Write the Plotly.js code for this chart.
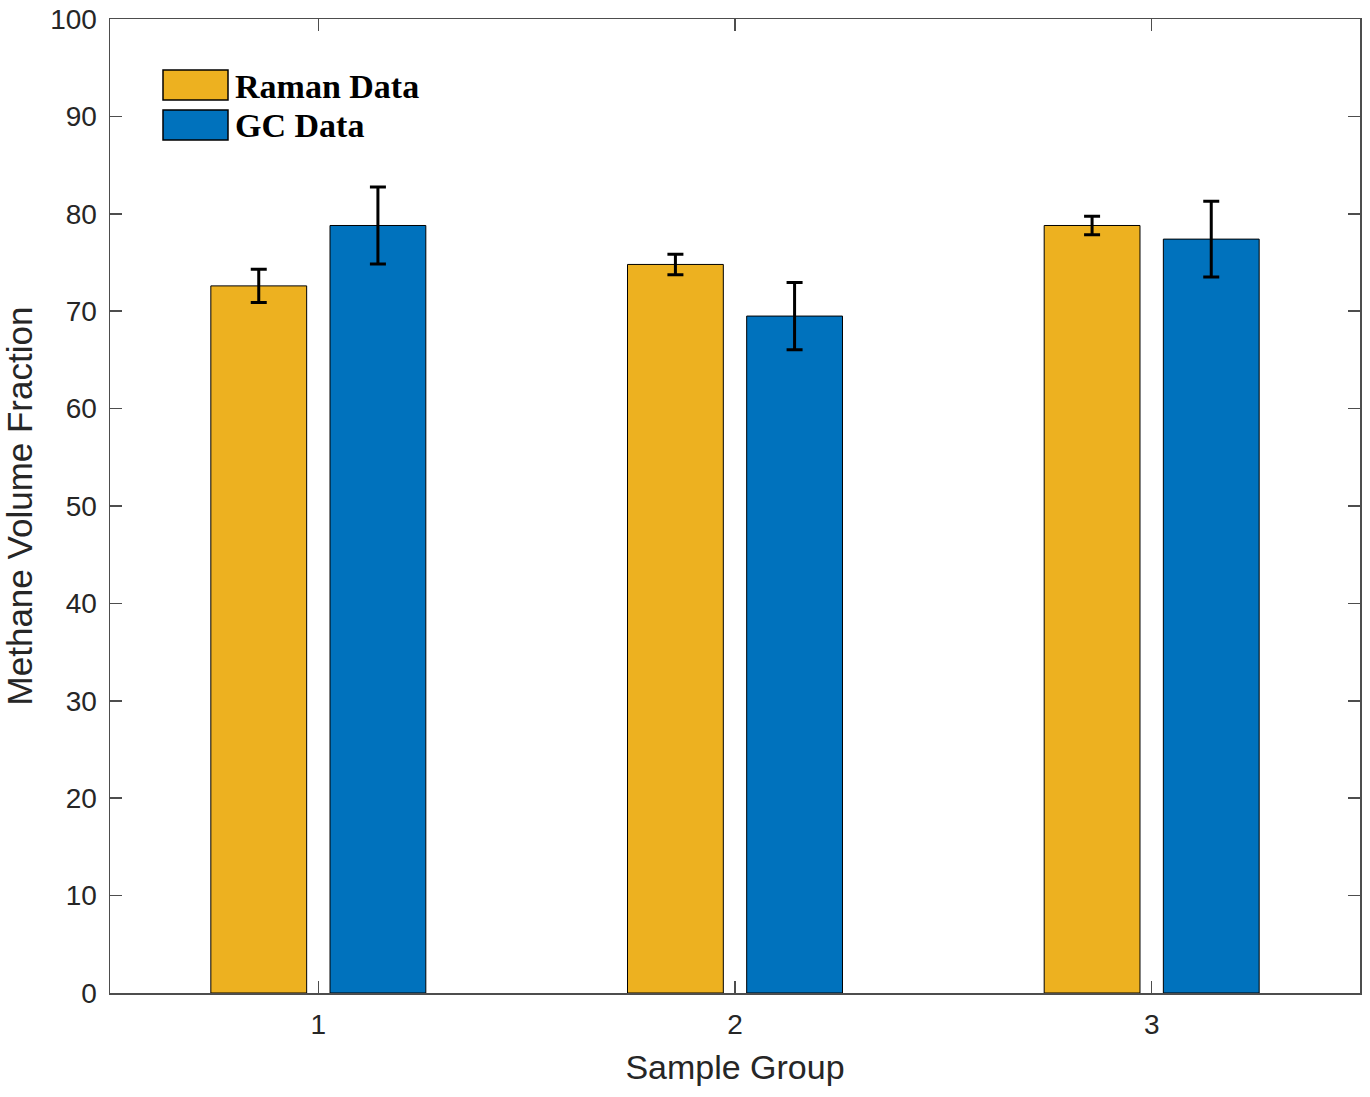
<!DOCTYPE html>
<html><head><meta charset="utf-8">
<script src="https://cdn.plot.ly/plotly-3.0.1.min.js"></script>
<style>html,body{margin:0;padding:0;background:#fff}#c{width:1370px;height:1097px}</style>
</head><body><div id="c"></div>
<script>
const groups = [1, 2, 3];
const ramanValues = [72.6, 74.8, 78.8];
const ramanErrors = [1.7, 1.05, 0.95];
const gcValues = [78.8, 69.5, 77.4];
const gcErrors = [3.95, 3.45, 3.9];
const seriesNames = ['Raman Data', 'GC Data'];
const yTicks = [0,10,20,30,40,50,60,70,80,90,100];

const ramanColor = '#EDB120', gcColor = '#0072BD';
const errStyle = {type:'data', visible:true, color:'#000', thickness:3, width:8};

const traces = [
  {type:'bar', x:groups, y:ramanValues, name:seriesNames[0],
   marker:{color:ramanColor, line:{color:'#000', width:1}},
   error_y:Object.assign({array:ramanErrors}, errStyle), showlegend:false},
  {type:'bar', x:groups, y:gcValues, name:seriesNames[1],
   marker:{color:gcColor, line:{color:'#000', width:1}},
   error_y:Object.assign({array:gcErrors}, errStyle), showlegend:false}
];

const sans = 'Liberation Sans, Arial, sans-serif';
const axisCommon = {
  showline:true, linecolor:'#4d4d4d', linewidth:1.5, mirror:'allticks',
  ticks:'inside', ticklen:12, tickwidth:1.5, tickcolor:'#4d4d4d',
  showgrid:false, zeroline:false,
  tickfont:{family:sans, size:28, color:'#262626'}
};

const layout = {
  width:1370, height:1097,
  margin:{l:110, r:10, t:19, b:104},
  paper_bgcolor:'#fff', plot_bgcolor:'#fff',
  barmode:'group', bargap:0.428, bargroupgap:0.196,
  xaxis:Object.assign({}, axisCommon, {
    range:[0.5, 3.5], tickvals:groups, ticktext:groups.map(String),
    ticklabelstandoff:6,
    title:{text:'Sample Group', font:{family:sans, size:34, color:'#262626'}, standoff:16}
  }),
  yaxis:Object.assign({}, axisCommon, {
    range:[0, 100], tickvals:yTicks, ticklabelstandoff:6,
    title:{text:'Methane Volume Fraction', font:{family:sans, size:35, color:'#262626'}, standoff:12}
  }),
  shapes:[
    {type:'rect', xref:'paper', yref:'paper', x0:(163-110)/1250, x1:(228-110)/1250,
     y0:(993-100)/974, y1:(993-70)/974, fillcolor:ramanColor, line:{color:'#000', width:1.5}},
    {type:'rect', xref:'paper', yref:'paper', x0:(163-110)/1250, x1:(228-110)/1250,
     y0:(993-140)/974, y1:(993-110)/974, fillcolor:gcColor, line:{color:'#000', width:1.5}}
  ],
  annotations:[
    {xref:'paper', yref:'paper', x:(233-110)/1250, y:(993-86)/974, xanchor:'left', yanchor:'middle',
     text:'<b>'+seriesNames[0]+'</b>', showarrow:false,
     font:{family:'Liberation Serif, Times New Roman, serif', size:34, color:'#000'}},
    {xref:'paper', yref:'paper', x:(233-110)/1250, y:(993-126)/974, xanchor:'left', yanchor:'middle',
     text:'<b>'+seriesNames[1]+'</b>', showarrow:false,
     font:{family:'Liberation Serif, Times New Roman, serif', size:34, color:'#000'}}
  ]
};

Plotly.newPlot('c', traces, layout, {displayModeBar:false, staticPlot:true});
</script></body></html>
